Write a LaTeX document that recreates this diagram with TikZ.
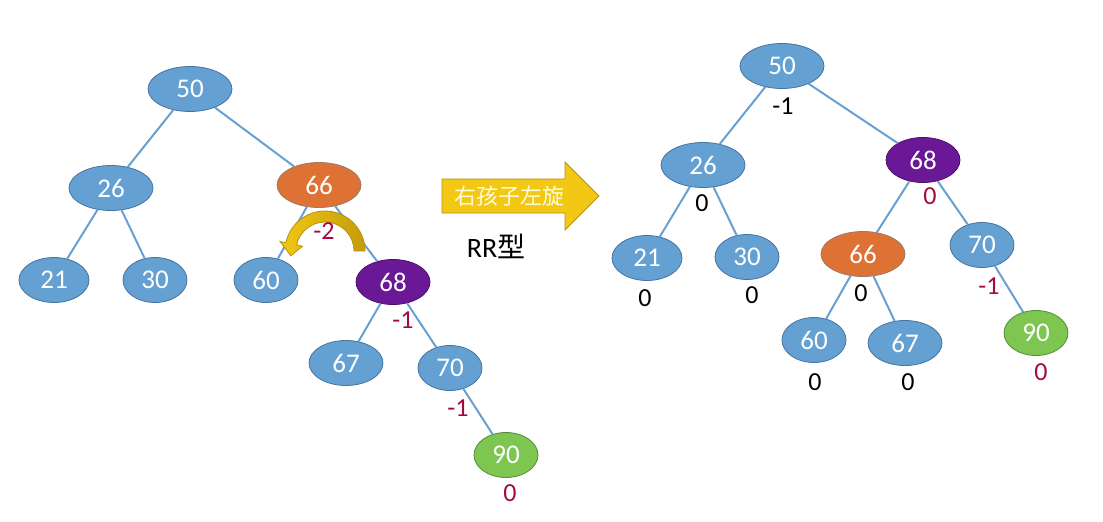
\documentclass[tikz,border=0pt]{standalone}
\usepackage{fontspec}
\setmainfont{Carlito}
\newfontfamily\cjk{Noto Sans CJK SC}
\usetikzlibrary{shapes.geometric}
\definecolor{nodeblue}{RGB}{100,160,210}
\definecolor{nodeline}{RGB}{70,115,160}
\definecolor{nodeorange}{RGB}{222,113,52}
\definecolor{nodepurple}{RGB}{106,24,150}
\definecolor{nodegreen}{RGB}{125,198,80}
\definecolor{edgeblue}{RGB}{105,160,210}
\definecolor{balred}{RGB}{165,10,60}
\definecolor{arrowyellow}{RGB}{242,200,20}
\definecolor{arrowdark}{RGB}{185,145,10}

\begin{document}
\begin{tikzpicture}[x=1pt,y=-1pt]
\tikzset{avl/.style={ellipse,draw=nodeline,fill=nodeblue,text=white,line width=0.8pt,inner sep=0pt,
    minimum width=84pt,minimum height=45pt,font=\fontsize{27}{30}\selectfont},
  w74/.style={minimum width=74pt},
  w70/.style={minimum width=70pt},
  w64/.style={minimum width=64pt},
  hot/.style={fill=nodeorange,draw=gray!70!nodeorange},
  pivot/.style={fill=nodepurple,draw=nodepurple!70!black},
  fresh/.style={fill=nodegreen,draw=nodegreen!70!black},
  edge/.style={draw=edgeblue,line width=2pt},
  bal/.style={font=\fontsize{26}{28}\selectfont,text=black,inner sep=0pt},
  balbad/.style={bal,text=balred}}
\useasboundingbox (0,0) rectangle (1103,522);

% before: RR imbalance at 66
\node[avl] (l50) at (190,89) {50};
\node[avl] (l26) at (111,188) {26};
\node[avl,hot] (l66) at (319,185) {66};
\node[avl,w70] (l21) at (54,280) {21};
\node[avl,w64] (l30) at (155,280) {30};
\node[avl,w64] (l60) at (266,280) {60};
\node[avl,w74,pivot] (l68) at (393,282) {68};
\node[avl,w74] (l67) at (346,363) {67};
\node[avl,w64] (l70) at (450,368) {70};
\node[avl,w64,fresh] (l90) at (506,455) {90};
\draw[edge] (l50) -- (l26);
\draw[edge] (l50) -- (l66);
\draw[edge] (l26) -- (l21);
\draw[edge] (l26) -- (l30);
\draw[edge] (l66) -- (l60);
\draw[edge] (l66) -- (l68);
\draw[edge] (l68) -- (l67);
\draw[edge] (l68) -- (l70);
\draw[edge] (l70) -- (l90);
\node[balbad] (bl68) at (403,320) {-1};
\node[balbad] (bl70) at (458,408) {-1};
\node[balbad] (bl90) at (510,493) {0};

% turn arrow under 66
\begin{scope}[shift={(325,251)}]
\path[draw=arrowdark,line width=0.8pt,left color=arrowyellow,right color=arrowdark!80!arrowyellow]
  (0:40) arc[start angle=0,end angle=-168,radius=40] -- (-168:46) -- (-188:34.5) -- (-168:23)
  -- (-168:29) arc[start angle=-168,end angle=0,radius=29] -- cycle;
\end{scope}
\node[balbad] (bl66) at (324,231) {-2};

% rotation
\draw[draw=arrowdark,fill=arrowyellow,line width=0.8pt]
  (442,179) -- (565,179) -- (565,162) -- (599,196) -- (565,230) -- (565,213) -- (442,213) -- cycle;
\node[text=yellow!15,font=\cjk\fontsize{22}{24}\selectfont] (rotate) at (509,196) {右孩子左旋};
\node[font=\fontsize{28}{30}\selectfont] (rr) at (496,246) {RR{\cjk 型}};

% after
\node[avl] (r50) at (782,66) {50};
\node[avl] (r26) at (703,165) {26};
\node[avl,w74,pivot] (r68) at (923,160) {68};
\node[avl,w70] (r21) at (647,258) {21};
\node[avl,w64] (r30) at (747,257) {30};
\node[avl,hot] (r66) at (863,254) {66};
\node[avl,w64] (r70) at (982,245) {70};
\node[avl,w64] (r60) at (814,340) {60};
\node[avl,w74] (r67) at (905,343) {67};
\node[avl,w64,fresh] (r90) at (1036,333) {90};
\draw[edge] (r50) -- (r26);
\draw[edge] (r50) -- (r68);
\draw[edge] (r26) -- (r21);
\draw[edge] (r26) -- (r30);
\draw[edge] (r68) -- (r66);
\draw[edge] (r68) -- (r70);
\draw[edge] (r66) -- (r60);
\draw[edge] (r66) -- (r67);
\draw[edge] (r70) -- (r90);
\node[bal] (br50) at (783,106) {-1};
\node[bal] (br26) at (702,203) {0};
\node[balbad] (br68) at (930,196) {0};
\node[bal] (br21) at (645,298) {0};
\node[bal] (br30) at (752,295) {0};
\node[bal] (br66) at (861,293) {0};
\node[balbad] (br70) at (989,286) {-1};
\node[bal] (br60) at (815,382) {0};
\node[bal] (br67) at (908,382) {0};
\node[balbad] (br90) at (1041,372) {0};
\end{tikzpicture}
\end{document}
